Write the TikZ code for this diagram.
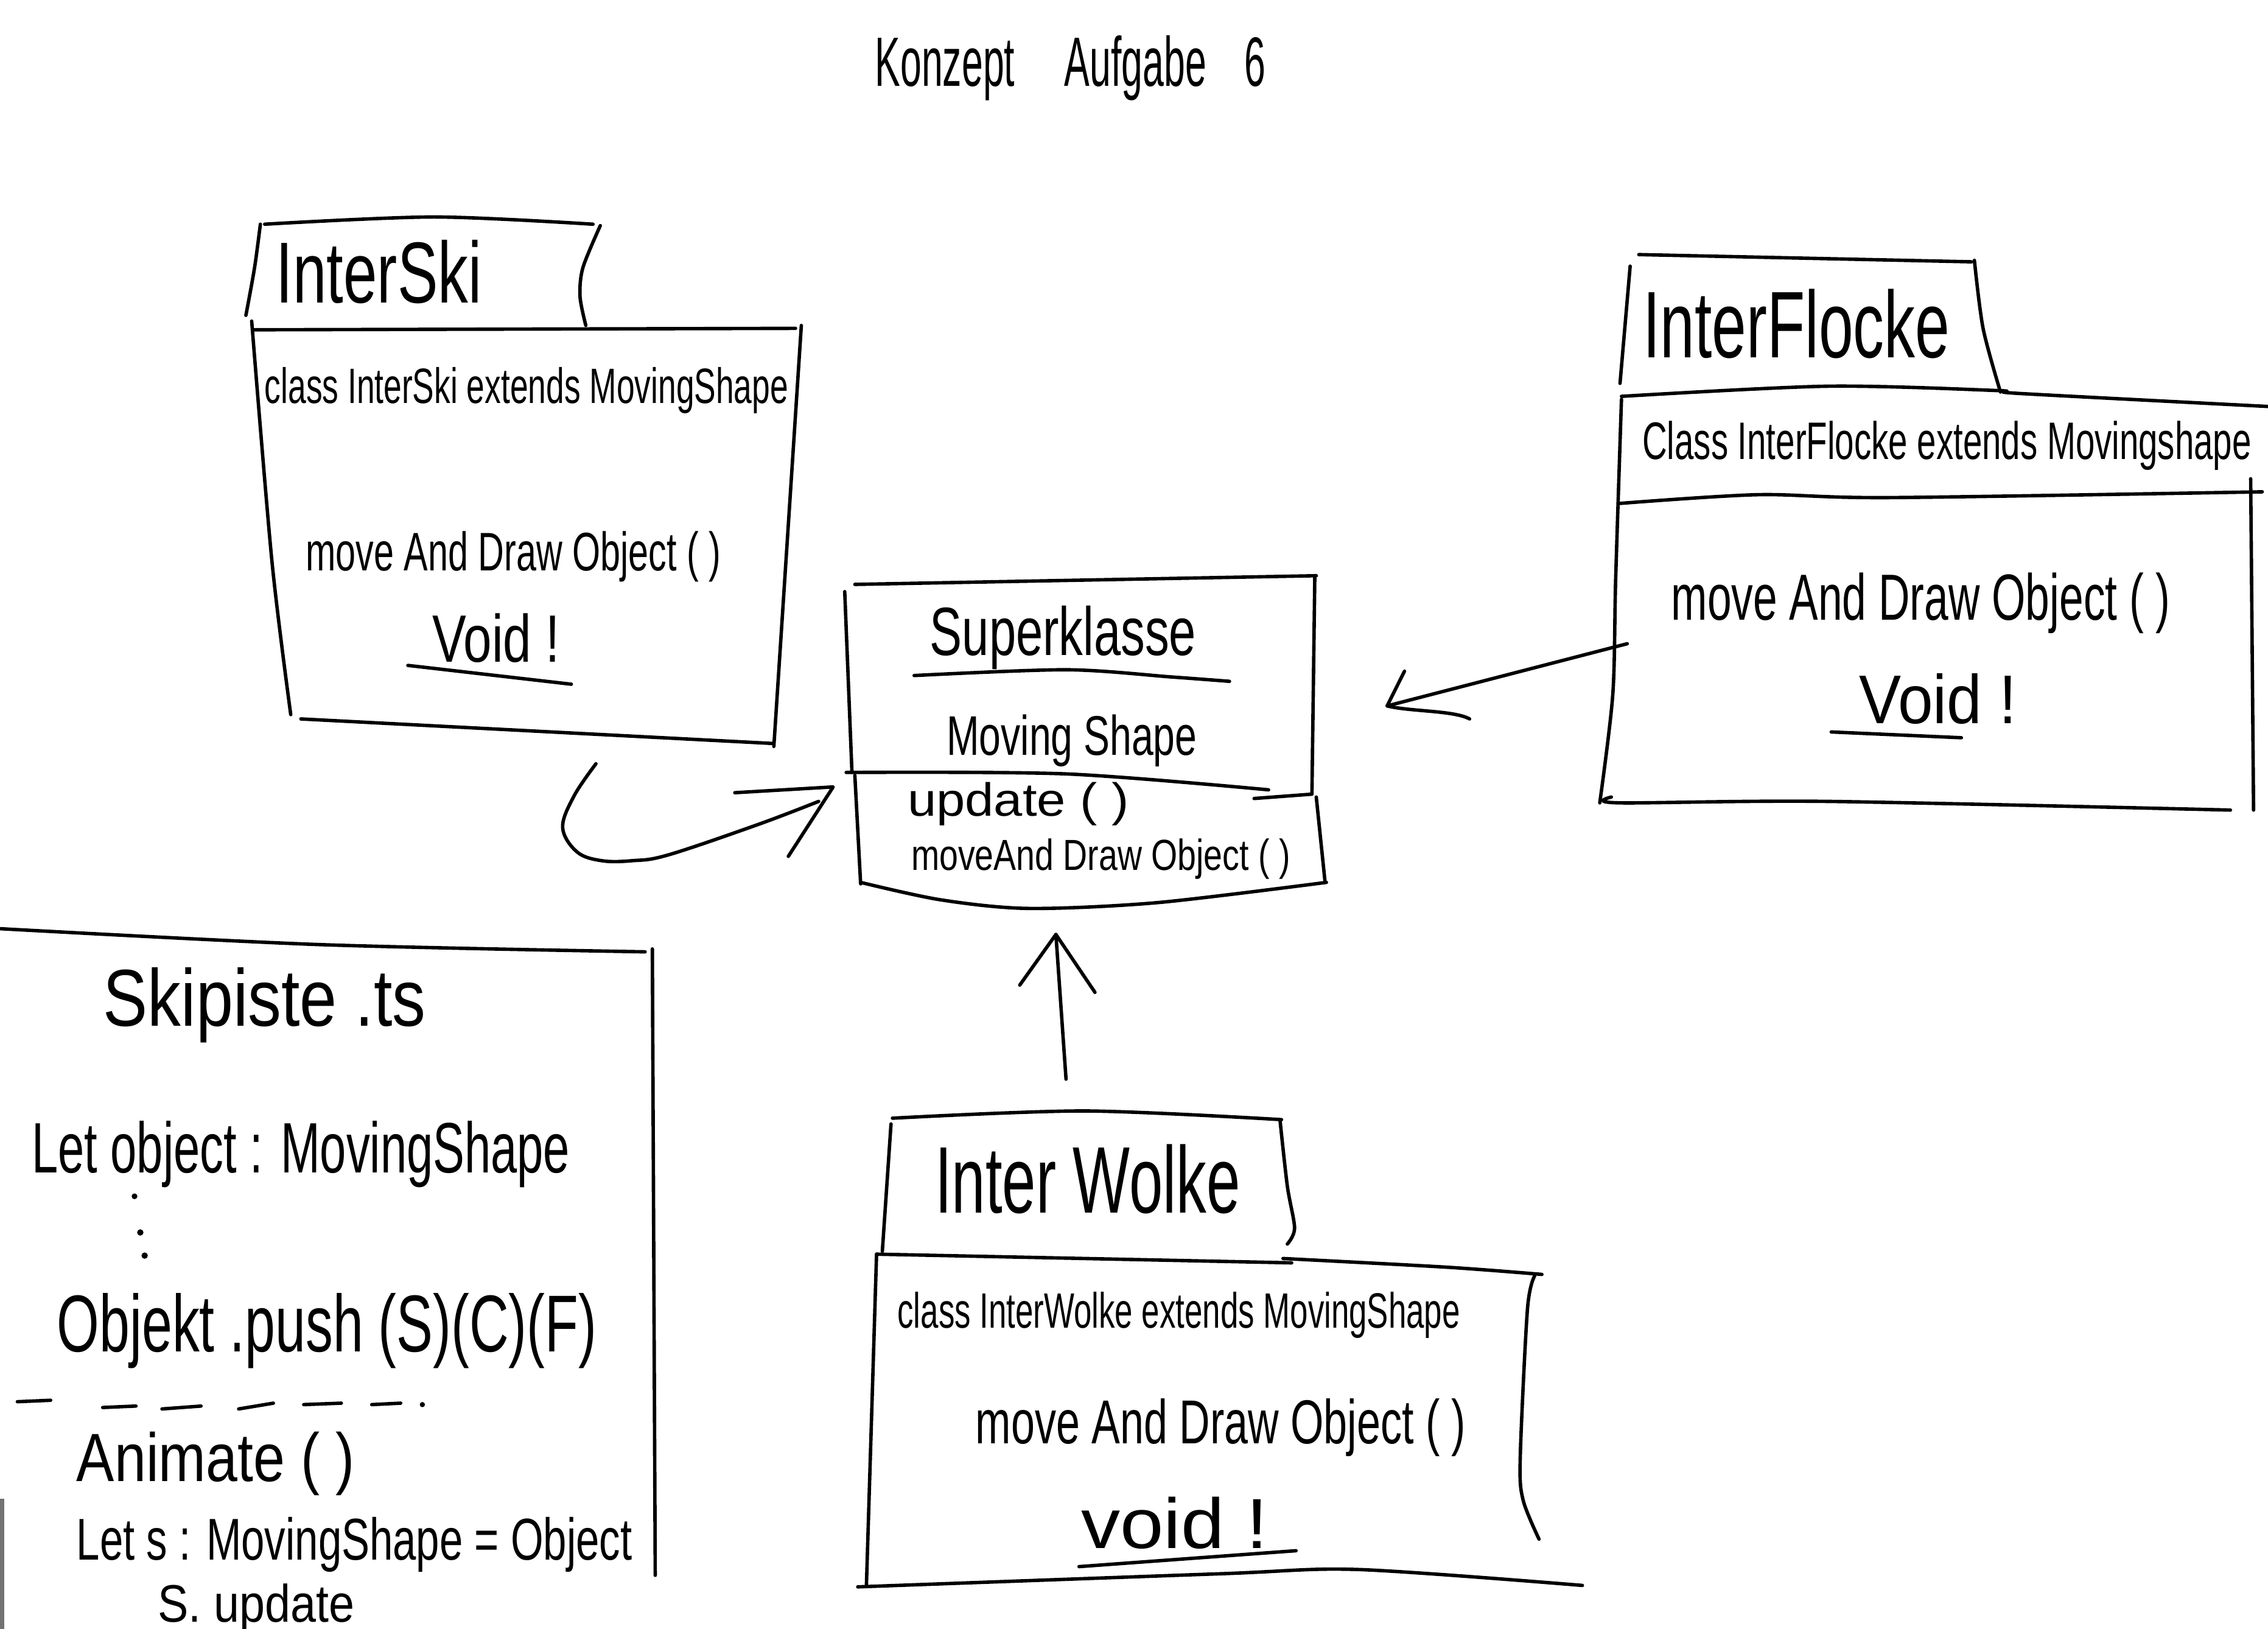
\documentclass[tikz,border=0pt]{standalone}
\usepackage{fontspec}
\setmainfont{Liberation Sans}
% one drawing unit of the sketch
\newlength\upx
\setlength\upx{0.2376mm}
% text fitted to a given width and total height (in drawing units)
\newcommand{\hw}[3]{\resizebox*{#1\upx}{#2\upx}{#3}}
\begin{document}
\begin{tikzpicture}[x=0.2376mm, y=-0.2376mm,
  pen/.style={line width=1.6pt, line cap=round, line join=round},
  txt/.style={inner sep=0pt, anchor=center}]
\useasboundingbox (0,0) rectangle (1568,1126);
\fill[white] (0,0) rectangle (1568,1126);
% scanner edge
\fill[black!55] (0,1036) rectangle (3,1126);

% ---------- title
\node[txt] (title) at (740,47) {\hw{270}{45}{Konzept\hspace{1.3em}Aufgabe\hspace{1em}6}};

% ---------- InterSki
\draw[pen] plot[smooth] coordinates {(180,155) (176,185) (170,218)};
\draw[pen] plot[smooth] coordinates {(183,155) (300,150) (410,155)};
\draw[pen] plot[smooth] coordinates {(415,156) (403,185) (401,205) (405,225)};
\draw[pen] (175,228) -- (550,227);
\draw[pen] plot[smooth] coordinates {(174,222) (188,388) (201,494)};
\draw[pen] (208,497) -- (535,514);
\draw[pen] (554,225) -- (535,516);
\node[txt] (skiName) at (262,188) {\hw{142}{44}{InterSki}};
\node[txt] (skiDecl) at (364,270) {\hw{362}{32}{class InterSki extends MovingShape}};
\node[txt] (skiMeth) at (355,385) {\hw{287}{35}{move And Draw Object ( )}};
\node[txt] (skiVoid) at (343,441) {\hw{88}{34}{Void !}};
\draw[pen] (282,460) -- (395,473);

% ---------- Superklasse MovingShape
\draw[pen] (591,404) -- (910,398);
\draw[pen] (584,409) -- (589,534);
\draw[pen] (909,398) -- (907,549) -- (867,552);
\draw[pen] plot[smooth] coordinates {(585,534) (737,535) (877,546)};
\draw[pen] (591,536) -- (595,611);
\draw[pen] (910,551) -- (916,609);
\draw[pen] plot[smooth] coordinates {(595,610) (650,622) (711,628) (800,624) (917,610)};
\node[txt] (superTitle) at (735,441) {\hw{184}{44}{Superklasse}};
\draw[pen] plot[smooth] coordinates {(632,467) (737,463) (810,468) (850,471)};
\node[txt] (superName) at (741,512) {\hw{173}{36}{Moving Shape}};
\node[txt] (superUpd) at (704,556) {\hw{153}{30}{update ( )}};
\node[txt] (superMeth) at (761,594) {\hw{262}{28}{moveAnd Draw Object ( )}};

% ---------- InterFlocke
\draw[pen] (1133,176) -- (1363,181);
\draw[pen] (1127,184) -- (1120,265);
\draw[pen] plot[smooth] coordinates {(1365,180) (1371,227) (1383,271)};
\draw[pen] plot[smooth] coordinates {(1121,274) (1263,267) (1381,270) (1396,272) (1568,281)};
\draw[pen] plot[smooth] coordinates {(1120,348) (1215,342) (1306,344) (1564,340)};
\draw[pen] plot[smooth] coordinates {(1121,276) (1117,400) (1115,480) (1106,555)};
\draw[pen] plot[smooth] coordinates {(1114,551) (1119,555) (1263,554) (1542,560)};
\draw[pen] (1556,331) -- (1558,560);
\node[txt] (flockeName) at (1242,224) {\hw{212}{48}{InterFlocke}};
\node[txt] (flockeDecl) at (1346,308) {\hw{421}{34}{Class InterFlocke extends Movingshape}};
\node[txt] (flockeMeth) at (1328,417) {\hw{345}{42}{move And Draw Object ( )}};
\node[txt] (flockeVoid) at (1340,483) {\hw{109}{35}{Void !}};
\draw[pen] (1266,506) -- (1356,510);

% ---------- InterWolke
\draw[pen] plot[smooth] coordinates {(617,773) (750,768) (886,774)};
\draw[pen] (616,777) -- (610,865);
\draw[pen] plot[smooth] coordinates {(885,775) (890,820) (895,849) (890,860)};
\draw[pen] (606,867) -- (893,873);
\draw[pen] plot[smooth] coordinates {(887,870) (1000,876) (1066,881)};
\draw[pen] (606,867) -- (599,1096);
\draw[pen] plot[smooth] coordinates {(1061,882) (1056,905) (1051,1008) (1053,1037) (1064,1064)};
\draw[pen] plot[smooth] coordinates {(593,1097) (842,1088) (939,1085) (1094,1096)};
\node[txt] (wolkeName) at (752,815) {\hw{211}{48}{Inter Wolke}};
\node[txt] (wolkeDecl) at (815,909) {\hw{389}{32}{class InterWolke extends MovingShape}};
\node[txt] (wolkeMeth) at (844,987) {\hw{339}{40}{move And Draw Object ( )}};
\node[txt] (wolkeVoid) at (812,1053) {\hw{129}{36}{void !}};
\draw[pen] (746,1083) -- (896,1072);

% ---------- Skipiste.ts
\draw[pen] plot[smooth] coordinates {(0,642) (221,653) (446,658)};
\draw[pen] (451,656) -- (453,1089);
\node[txt] (pisteName) at (183,695) {\hw{223}{52}{Skipiste .ts}};
\node[txt] (pisteDecl) at (208,798) {\hw{372}{46}{Let object : MovingShape}};
\fill (93,827) circle (2) (97,852) circle (2.2) (100,868) circle (2.2);
\node[txt] (pistePush) at (226,920) {\hw{373}{52}{Objekt .push (S)(C)(F)}};
\draw[pen] (12,969) -- (35,968) (71,973) -- (94,972) (112,974) -- (139,972)
  (165,974) -- (189,970) (210,971) -- (236,970) (257,971) -- (277,970);
\fill (292,971) circle (1.8);
\node[txt] (pisteAnim) at (149,1012) {\hw{192}{44}{Animate ( )}};
\node[txt] (pisteLet) at (245,1068) {\hw{384}{38}{Let s : MovingShape = Object}};
\node[txt] (pisteUpd) at (177,1112) {\hw{136}{34}{S. update}};

% ---------- inheritance connectors
\coordinate (skiPort) at (412,528);
\coordinate (superWest) at (566,554);
\coordinate (superWestTip) at (576,544);
\draw[pen] plot[smooth, tension=0.6] coordinates {(skiPort) (397,550) (389,572) (399,589) (416,595) (437,595) (462,591) (524,570) (superWest)};
\draw[pen] (508,548) -- (superWestTip) -- (545,592);

\coordinate (flockePort) at (1125,445);
\coordinate (superEastTip) at (959,488);
\draw[pen] (flockePort) -- (superEastTip);
\draw[pen] (971,464) -- (superEastTip) .. controls (975,492) and (1005,491) .. (1016,497);

\coordinate (wolkePort) at (737,746);
\coordinate (superSouthTip) at (730,646);
\draw[pen] (wolkePort) -- (superSouthTip);
\draw[pen] (705,681) -- (superSouthTip) -- (757,686);
\end{tikzpicture}
\end{document}
